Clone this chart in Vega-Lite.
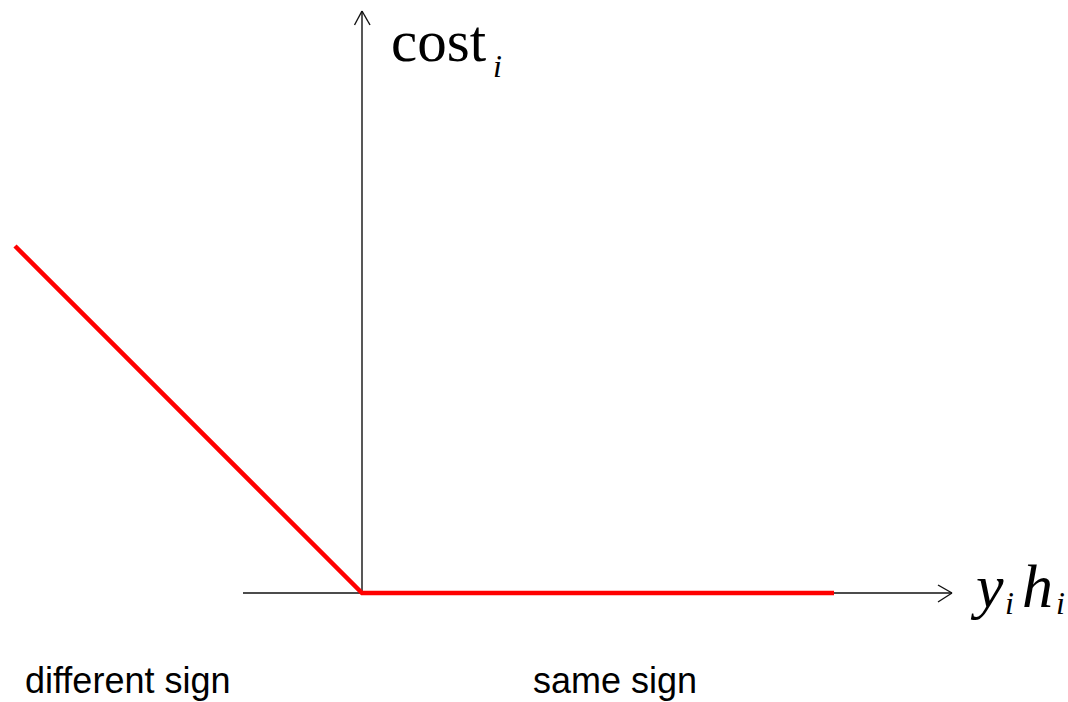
{
  "$schema": "https://vega.github.io/schema/vega-lite/v6.json",
  "width": 1068,
  "height": 702,
  "autosize": {"type": "fit", "contains": "padding"},
  "padding": 0,
  "background": "white",
  "config": {"view": {"stroke": null}},
  "datasets": {
    "loss": [
      {"z": -3.47, "cost": 3.47},
      {"z": 0, "cost": 0},
      {"z": 4.72, "cost": 0}
    ],
    "axes": [
      {"part": "x axis", "x": -1.19, "y": 0, "x2": 5.9, "y2": 0},
      {"part": "x arrow upper", "x": 5.76, "y": 0.08, "x2": 5.9, "y2": 0},
      {"part": "x arrow lower", "x": 5.76, "y": -0.09, "x2": 5.9, "y2": 0},
      {"part": "y axis", "x": 0, "y": 0, "x2": 0, "y2": 5.82},
      {"part": "y arrow left", "x": -0.075, "y": 5.68, "x2": 0, "y2": 5.82},
      {"part": "y arrow right", "x": 0.08, "y": 5.68, "x2": 0, "y2": 5.82}
    ],
    "upright": [
      {"label": "cost", "x": 0.29, "y": 5.32}
    ],
    "italic": [
      {"label": "y", "x": 6.14, "y": -0.14},
      {"label": "h", "x": 6.6, "y": -0.14}
    ],
    "subscripts": [
      {"label": "i", "x": 1.31, "y": 5.16},
      {"label": "i", "x": 6.43, "y": -0.21},
      {"label": "i", "x": 6.94, "y": -0.21}
    ],
    "regions": [
      {"label": "different sign", "x": -3.37, "y": -1.0},
      {"label": "same sign", "x": 1.71, "y": -1.0}
    ]
  },
  "layer": [
    {
      "data": {"name": "axes"},
      "mark": {"type": "rule", "color": "#111111", "strokeWidth": 1.4},
      "encoding": {
        "x": {"field": "x", "type": "quantitative", "scale": {"domain": [-3.62, 7.06], "nice": false, "zero": false}, "axis": null},
        "y": {"field": "y", "type": "quantitative", "scale": {"domain": [-1.09, 5.93], "nice": false, "zero": false}, "axis": null},
        "x2": {"field": "x2"},
        "y2": {"field": "y2"}
      }
    },
    {
      "data": {"name": "loss"},
      "mark": {"type": "line", "color": "#ff0000", "strokeWidth": 4.5, "strokeJoin": "miter"},
      "encoding": {
        "x": {"field": "z", "type": "quantitative", "axis": null},
        "y": {"field": "cost", "type": "quantitative", "axis": null},
        "order": {"value": 0}
      }
    },
    {
      "data": {"name": "upright"},
      "mark": {"type": "text", "font": "Liberation Serif, Times New Roman, serif", "fontSize": 59, "align": "left", "baseline": "alphabetic", "color": "black"},
      "encoding": {
        "x": {"field": "x", "type": "quantitative"},
        "y": {"field": "y", "type": "quantitative"},
        "text": {"field": "label"}
      }
    },
    {
      "data": {"name": "italic"},
      "mark": {"type": "text", "font": "Liberation Serif, Times New Roman, serif", "fontStyle": "italic", "fontSize": 62, "align": "left", "baseline": "alphabetic", "color": "black"},
      "encoding": {
        "x": {"field": "x", "type": "quantitative"},
        "y": {"field": "y", "type": "quantitative"},
        "text": {"field": "label"}
      }
    },
    {
      "data": {"name": "subscripts"},
      "mark": {"type": "text", "font": "Liberation Serif, Times New Roman, serif", "fontStyle": "italic", "fontSize": 32, "align": "left", "baseline": "alphabetic", "color": "black"},
      "encoding": {
        "x": {"field": "x", "type": "quantitative"},
        "y": {"field": "y", "type": "quantitative"},
        "text": {"field": "label"}
      }
    },
    {
      "data": {"name": "regions"},
      "mark": {"type": "text", "font": "Liberation Sans, Arial, sans-serif", "fontSize": 36, "align": "left", "baseline": "alphabetic", "color": "black"},
      "encoding": {
        "x": {"field": "x", "type": "quantitative"},
        "y": {"field": "y", "type": "quantitative"},
        "text": {"field": "label"}
      }
    }
  ]
}
